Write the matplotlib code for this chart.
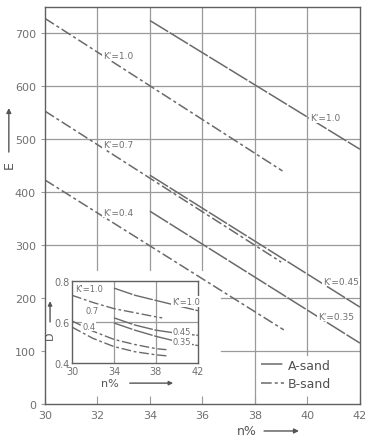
import matplotlib
matplotlib.use("Agg")
import matplotlib.pyplot as plt
from matplotlib.lines import Line2D

# main chart: E against porosity n%, A-sand (solid) and B-sand (dashed)
a10_n = [34, 42]
a10_e = [724, 481]
a045_n = [34, 42]
a045_e = [432, 183]
a035_n = [34, 42]
a035_e = [364, 115]
b10_n = [30, 39.05]
b10_e = [728, 440]
b07_n = [30, 39.0]
b07_e = [553, 268]
b04_n = [30, 39.1]
b04_e = [423, 140]

# inset chart
ia10_n = [34, 36, 38, 40, 42]
ia10_d = [0.765, 0.73, 0.705, 0.68, 0.655]
ia045_n = [34, 36, 38, 40, 42]
ia045_d = [0.62, 0.585, 0.56, 0.545, 0.535]
ia035_n = [34, 36, 38, 40, 42]
ia035_d = [0.595, 0.56, 0.53, 0.505, 0.485]
ib10_n = [30, 32, 34, 36, 38, 38.6]
ib10_d = [0.73, 0.695, 0.665, 0.645, 0.625, 0.62]
ib07_n = [30, 32, 34, 36, 38, 39]
ib07_d = [0.605, 0.555, 0.515, 0.49, 0.47, 0.465]
ib04_n = [30, 32, 34, 36, 38, 39]
ib04_d = [0.575, 0.52, 0.48, 0.455, 0.44, 0.435]

xticks = [30, 32, 34, 36, 38, 40, 42]
yticks = [0, 100, 200, 300, 400, 500, 600, 700]
inset_xticks = [30, 34, 38, 42]
inset_yticks = [0.4, 0.6, 0.8]

LC = '#6a6a6a'
GC = '#9a9a9a'
TC = '#707070'
A_STYLE = dict(color=LC, lw=1.1, ls=(0, (14, 1.2)))
B_STYLE = dict(color=LC, lw=1.1, ls=(0, (7, 2, 2, 2)))
LBL = dict(color=TC, fontsize=6.5, va='center',
           bbox=dict(facecolor='white', edgecolor='none', pad=0.5))

fig = plt.figure(figsize=(3.68, 4.39), dpi=100)
ax = fig.add_axes([0.122, 0.0774, 0.856, 0.905])
ax.set_xlim(30, 42)
ax.set_ylim(0, 750)
ax.set_xticks(xticks)
ax.set_yticks(yticks)
ax.tick_params(axis='x', direction='in', length=6, colors=GC, labelcolor=TC, labelsize=8, pad=4)
ax.tick_params(axis='y', direction='out', length=3, colors=GC, labelcolor=TC, labelsize=8)
for s in ax.spines.values():
    s.set_color('#606060')
    s.set_linewidth(1.0)

# grid, left out behind the inset and the legend
gkw = dict(color=GC, lw=0.9, zorder=0.5)
for x in [32, 34, 36]:
    ax.axvline(x, ymin=253 / 750, **gkw)
ax.axvline(38, **gkw)
ax.axvline(40, ymin=92 / 750, **gkw)
for y in [100, 200]:
    ax.axhline(y, xmin=(36.7 - 30) / 12, **gkw)
for y in [300, 400, 500, 600, 700]:
    ax.axhline(y, **gkw)

ax.plot(a10_n, a10_e, **A_STYLE)
ax.plot(a045_n, a045_e, **A_STYLE)
ax.plot(a035_n, a035_e, **A_STYLE)
ax.plot(b10_n, b10_e, **B_STYLE)
ax.plot(b07_n, b07_e, **B_STYLE)
ax.plot(b04_n, b04_e, **B_STYLE)

ax.text(32.2, 658, "K'=1.0", **LBL)
ax.text(32.2, 489, "K'=0.7", **LBL)
ax.text(32.2, 362, "K'=0.4", **LBL)
ax.text(40.1, 540, "K'=1.0", **LBL)
ax.text(40.6, 232, "K'=0.45", **LBL)
ax.text(40.4, 166, "K'=0.35", **LBL)

handles = [Line2D([], [], **A_STYLE), Line2D([], [], **B_STYLE)]
leg = ax.legend(handles, ['A-sand', 'B-sand'], loc='upper left',
                bbox_to_anchor=(38.05, 95), bbox_transform=ax.transData,
                frameon=False, fontsize=9, handlelength=1.8, handletextpad=0.3,
                labelspacing=0.45, borderaxespad=0)
for t in leg.get_texts():
    t.set_color('#505050')

# axis labels with arrows
fig.text(0.024, 0.625, 'E', rotation=90, ha='center', va='center', color='#555555', fontsize=9)
fig.add_artist(matplotlib.patches.FancyArrowPatch((0.024, 0.645), (0.024, 0.758),
               transform=fig.transFigure, arrowstyle='-|>', mutation_scale=7, color='#555555', lw=1))
fig.text(0.671, 0.016, 'n%', ha='center', va='center', color='#555555', fontsize=9)
fig.add_artist(matplotlib.patches.FancyArrowPatch((0.71, 0.016), (0.82, 0.016),
               transform=fig.transFigure, arrowstyle='-|>', mutation_scale=7, color='#555555', lw=1))

# white area below the inset
ax.add_patch(matplotlib.patches.Rectangle((30.05, 3), 6.5, 240, facecolor='white', edgecolor='none', zorder=0.6))

# inset
ins = fig.add_axes([0.1957, 0.1708, 0.342, 0.187])
ins.set_xlim(30, 42)
ins.set_ylim(0.4, 0.8)
ins.set_xticks(inset_xticks)
ins.set_yticks(inset_yticks)
ins.set_yticklabels(['0.4', '0.6', '0.8'])
ins.tick_params(length=0, colors=TC, labelsize=7, pad=2)
for s in ins.spines.values():
    s.set_color('#606060')
    s.set_linewidth(1.0)
ins.axvline(34, color=GC, lw=0.9, zorder=0.5)
ins.axvline(38, color=GC, lw=0.9, zorder=0.5)
ins.axhline(0.6, color=GC, lw=0.9, zorder=0.5)

IA = dict(A_STYLE, lw=1.0)
IB = dict(B_STYLE, lw=1.0)
ins.plot(ia10_n, ia10_d, **IA)
ins.plot(ia045_n, ia045_d, **IA)
ins.plot(ia035_n, ia035_d, **IA)
ins.plot(ib10_n, ib10_d, **IB)
ins.plot(ib07_n, ib07_d, **IB)
ins.plot(ib04_n, ib04_d, **IB)

ILBL = dict(LBL, fontsize=6)
ins.text(30.3, 0.765, "K'=1.0", **ILBL)
ins.text(31.3, 0.655, "0.7", **ILBL)
ins.text(31.0, 0.58, "0.4", **ILBL)
ins.text(39.5, 0.70, "K'=1.0", **ILBL)
ins.text(39.6, 0.555, "0.45", **ILBL)
ins.text(39.6, 0.505, "0.35", **ILBL)

fig.text(0.136, 0.236, 'D', rotation=90, ha='center', va='center', color='#555555', fontsize=8)
fig.add_artist(matplotlib.patches.FancyArrowPatch((0.136, 0.258), (0.136, 0.318),
               transform=fig.transFigure, arrowstyle='-|>', mutation_scale=6, color='#555555', lw=1))
fig.text(0.299, 0.125, 'n%', ha='center', va='center', color='#555555', fontsize=8)
fig.add_artist(matplotlib.patches.FancyArrowPatch((0.345, 0.125), (0.478, 0.125),
               transform=fig.transFigure, arrowstyle='-|>', mutation_scale=6, color='#555555', lw=1))

plt.savefig('out.png', dpi=100)
